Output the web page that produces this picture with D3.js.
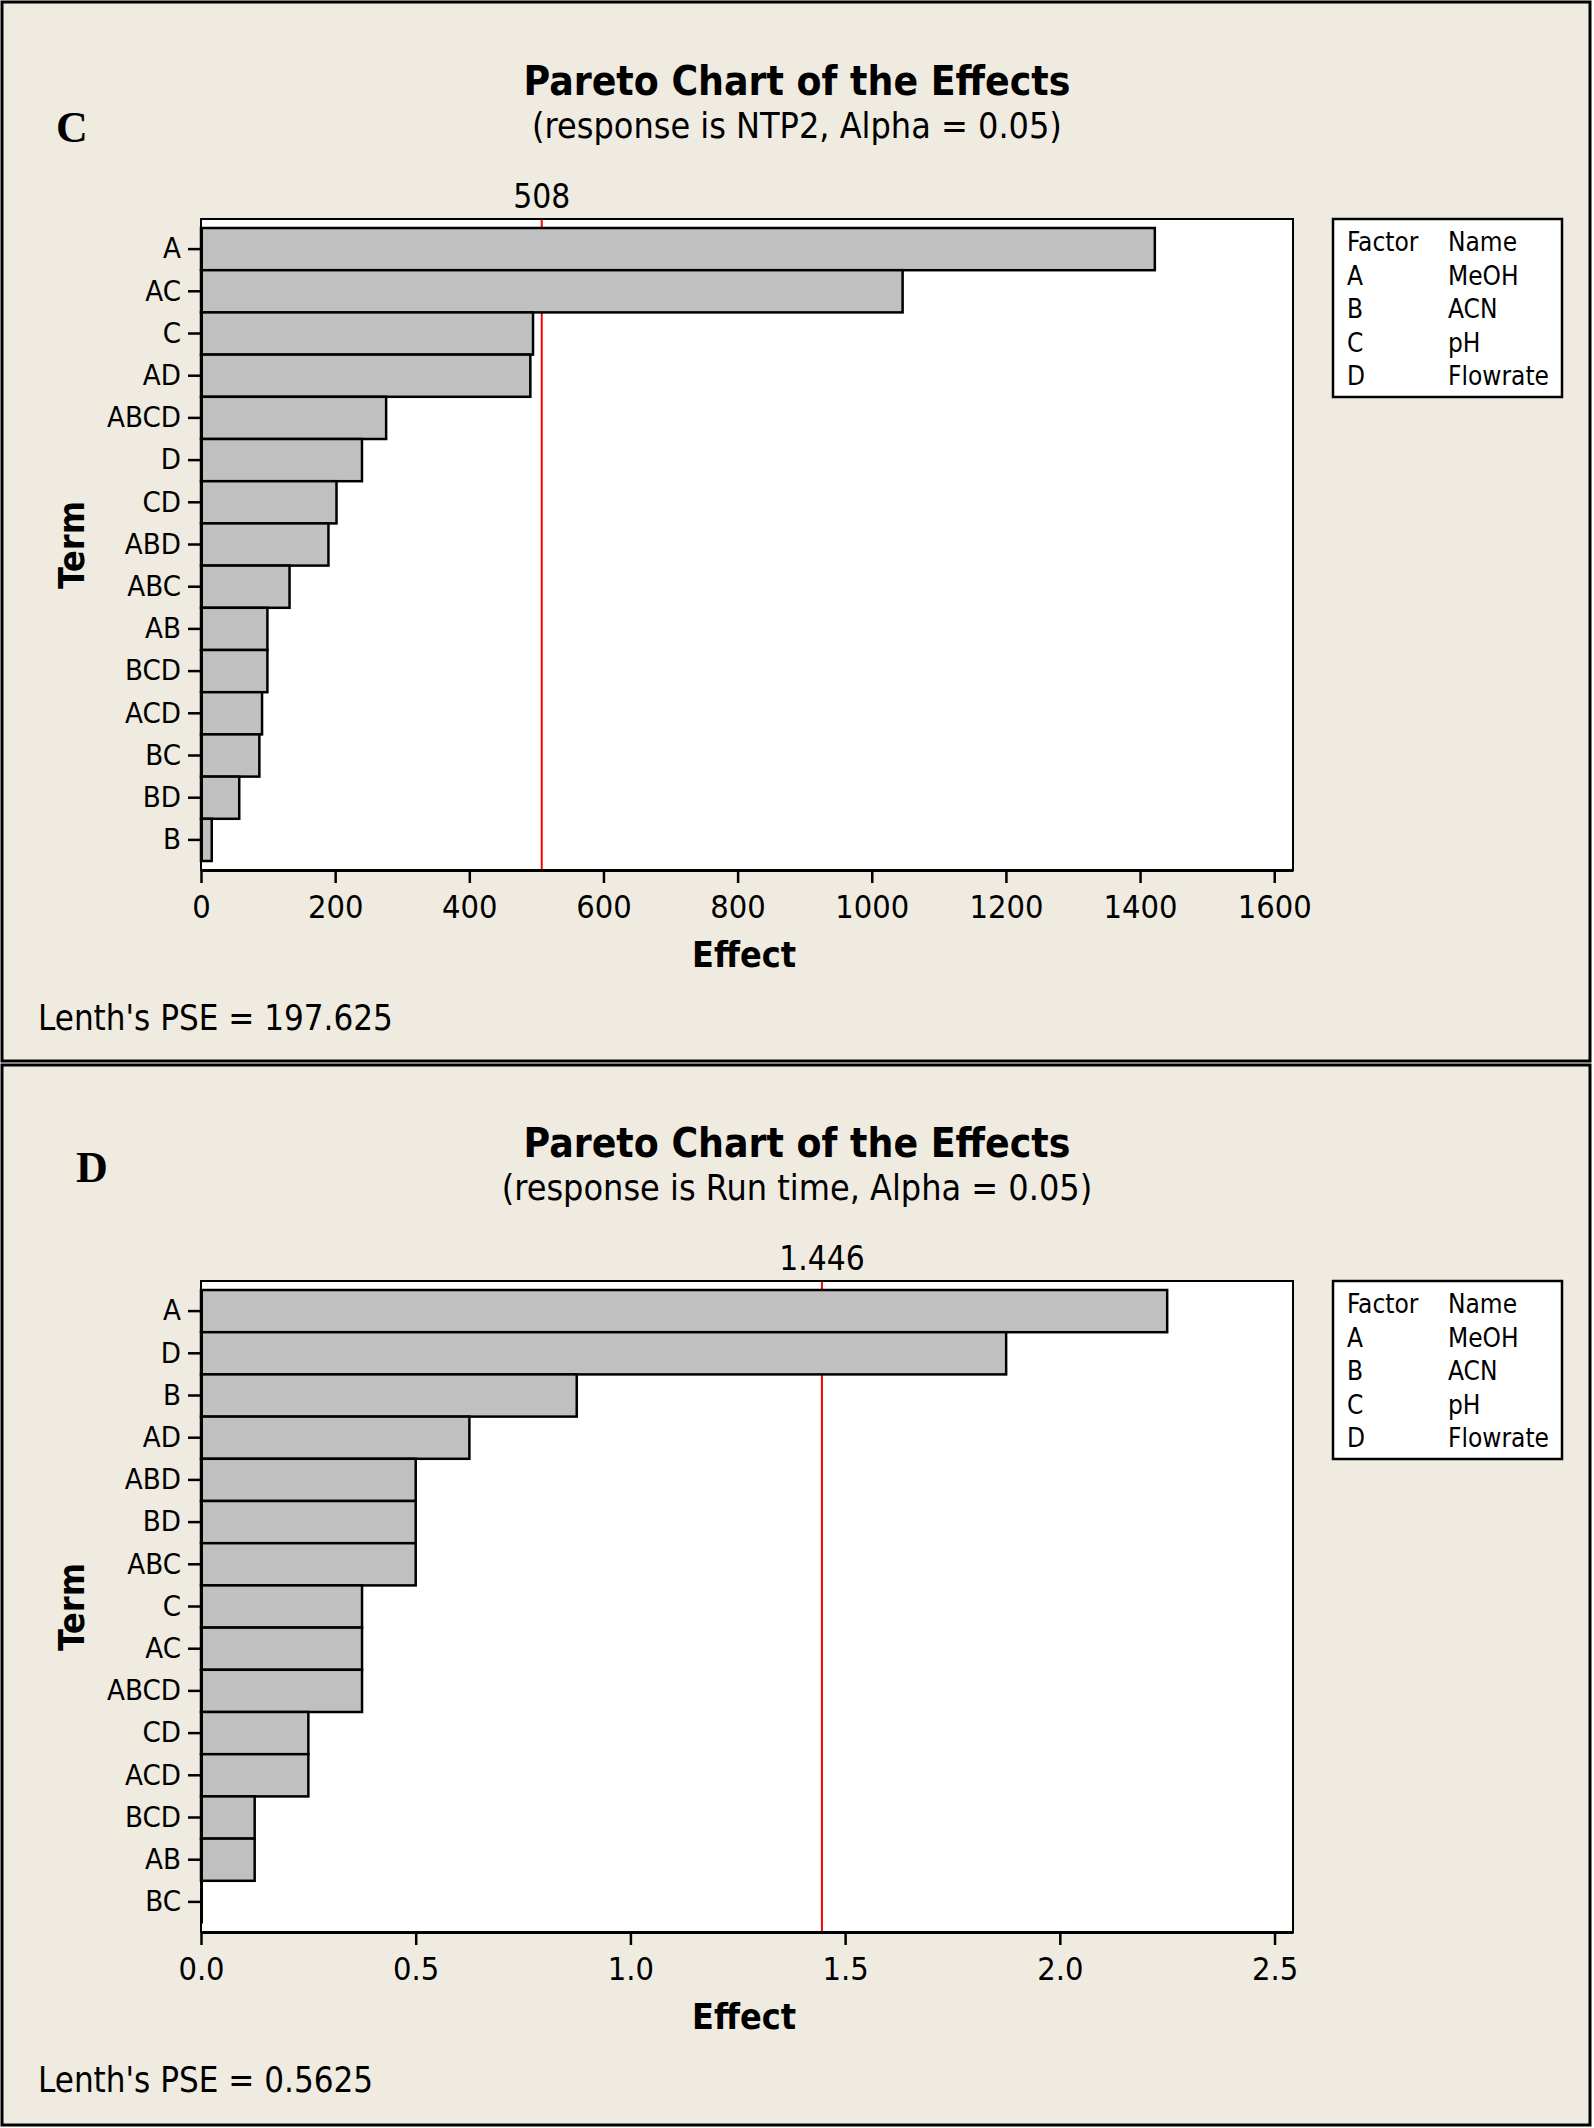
<!DOCTYPE html>
<html>
<head>
<meta charset="utf-8">
<script src="https://cdn.jsdelivr.net/npm/d3@7"></script>
<style>
  body { margin: 0; background: #ffffff; }
</style>
</head>
<body>
<script>
// ---- Data ----
var termsC = ["A", "AC", "C", "AD", "ABCD", "D", "CD", "ABD", "ABC", "AB", "BCD", "ACD", "BC", "BD", "B"];
var effectsC = [1422, 1046, 495, 491, 276, 240, 202, 190, 132, 99, 99, 91, 87, 57, 16];
var ticksC = [0, 200, 400, 600, 800, 1000, 1200, 1400, 1600];
var critC = 508;
var pseC = "197.625";
var responseC = "NTP2";

var termsD = ["A", "D", "B", "AD", "ABD", "BD", "ABC", "C", "AC", "ABCD", "CD", "ACD", "BCD", "AB", "BC"];
var effectsD = [2.25, 1.875, 0.875, 0.625, 0.5, 0.5, 0.5, 0.375, 0.375, 0.375, 0.25, 0.25, 0.125, 0.125, 0];
var ticksD = [0, 0.5, 1.0, 1.5, 2.0, 2.5];
var critD = 1.446;
var pseD = "0.5625";
var responseD = "Run time";

var factorCodes = ["A", "B", "C", "D"];
var factorNames = ["MeOH", "ACN", "pH", "Flowrate"];

// ---- Layout ----
var svgWidth = 1594;
var svgHeight = 2128;
var panelH = 1062;
var plot = { left: 201, right: 1293, top: 219, bottom: 870 };
var bg = "#efebe0";
var sans = "'DejaVu Sans Condensed', 'DejaVu Sans', sans-serif";

var svg = d3.select("body")
    .append("svg")
    .attr("width", svgWidth)
    .attr("height", svgHeight);

// pick a font size so that a sample string gets the width seen in the picture
function fitSize(sample, weight, width) {
    var t = svg.append("text")
        .style("font-family", sans)
        .style("font-weight", weight)
        .style("font-size", "100px")
        .text(sample);
    var w = t.node().getComputedTextLength();
    t.remove();
    return 100 * width / w;
}

var fs = {
    title: fitSize("Pareto Chart of the Effects", "bold", 547),
    sub: fitSize("(response is NTP2, Alpha = 0.05)", "normal", 530),
    crit: fitSize("508", "normal", 57),
    xtick: fitSize("1000", "normal", 74),
    ytick: fitSize("ABCD", "normal", 74),
    axis: fitSize("Effect", "bold", 104),
    pse: fitSize("Lenth's PSE = 197.625", "normal", 355),
    legend: fitSize("Flowrate", "normal", 101)
};

function drawPanel(opt) {
    var g = svg.append("g").attr("transform", `translate(0, ${opt.offset})`);

    // panel background and border
    g.append("rect")
        .attr("x", 2).attr("y", opt.boxTop)
        .attr("width", 1588).attr("height", opt.boxHeight)
        .attr("fill", bg)
        .attr("stroke", "#000")
        .attr("stroke-width", 3);

    // panel letter
    g.append("text")
        .attr("x", opt.letterX).attr("y", opt.letterY)
        .style("font-family", "'Liberation Serif', 'DejaVu Serif', serif")
        .style("font-weight", "bold")
        .style("font-size", "44px")
        .text(opt.letter);

    // titles
    g.append("text")
        .attr("x", svgWidth / 2).attr("y", 95)
        .attr("text-anchor", "middle")
        .style("font-family", sans).style("font-weight", "bold")
        .style("font-size", fs.title + "px")
        .text("Pareto Chart of the Effects");

    g.append("text")
        .attr("x", svgWidth / 2).attr("y", 138)
        .attr("text-anchor", "middle")
        .style("font-family", sans)
        .style("font-size", fs.sub + "px")
        .text(`(response is ${opt.response}, Alpha = 0.05)`);

    // scales
    var x = d3.scaleLinear()
        .domain([0, opt.xMax])
        .range([plot.left, plot.right]);

    var y = d3.scaleBand()
        .domain(opt.terms)
        .range([plot.top + 9, plot.bottom - 9])
        .padding(0);

    // plot area
    g.append("rect")
        .attr("x", plot.left).attr("y", plot.top)
        .attr("width", plot.right - plot.left)
        .attr("height", plot.bottom - plot.top)
        .attr("fill", "#fff");

    // critical value line (behind the bars)
    g.append("line")
        .attr("x1", x(opt.crit)).attr("x2", x(opt.crit))
        .attr("y1", plot.top).attr("y2", plot.bottom)
        .attr("stroke", "#ff0000")
        .attr("stroke-width", 2);

    g.append("text")
        .attr("x", x(opt.crit)).attr("y", 208)
        .attr("text-anchor", "middle")
        .style("font-family", sans)
        .style("font-size", fs.crit + "px")
        .text(opt.critLabel);

    // bars
    g.selectAll("rect.bar")
        .data(opt.effects)
        .join("rect")
        .attr("class", "bar")
        .attr("x", x(0))
        .attr("y", (d, i) => y(opt.terms[i]))
        .attr("width", d => x(d) - x(0))
        .attr("height", y.bandwidth())
        .attr("fill", "#c0c0c0")
        .attr("stroke", "#000")
        .attr("stroke-width", 2.5);

    // frame
    g.append("rect")
        .attr("x", plot.left).attr("y", plot.top)
        .attr("width", plot.right - plot.left)
        .attr("height", plot.bottom - plot.top)
        .attr("fill", "none")
        .attr("stroke", "#000")
        .attr("stroke-width", 2);

    // axes
    var bottomAxis = d3.axisBottom(x)
        .tickValues(opt.ticks)
        .tickFormat(opt.tickFormat)
        .tickSize(13)
        .tickSizeOuter(0)
        .tickPadding(12);

    var leftAxis = d3.axisLeft(y)
        .tickSize(13)
        .tickSizeOuter(0)
        .tickPadding(7);

    var xg = g.append("g")
        .attr("transform", `translate(0, ${plot.bottom})`)
        .call(bottomAxis);
    xg.selectAll("text")
        .style("font-family", sans)
        .style("font-size", fs.xtick + "px")
        .attr("fill", "#000");

    var yg = g.append("g")
        .attr("transform", `translate(${plot.left}, 0)`)
        .call(leftAxis);
    yg.selectAll("text")
        .style("font-family", sans)
        .style("font-size", fs.ytick + "px")
        .attr("fill", "#000");

    g.selectAll(".domain").attr("stroke", "#000").attr("stroke-width", 3);
    g.selectAll(".tick line").attr("stroke", "#000").attr("stroke-width", 2.5);

    // axis titles
    g.append("text")
        .attr("x", 744).attr("y", 967)
        .attr("text-anchor", "middle")
        .style("font-family", sans).style("font-weight", "bold")
        .style("font-size", fs.axis + "px")
        .text("Effect");

    g.append("text")
        .attr("transform", "translate(84, 545) rotate(-90)")
        .attr("text-anchor", "middle")
        .style("font-family", sans).style("font-weight", "bold")
        .style("font-size", fs.axis + "px")
        .text("Term");

    // Lenth's PSE
    g.append("text")
        .attr("x", 38).attr("y", 1030)
        .style("font-family", sans)
        .style("font-size", fs.pse + "px")
        .text(`Lenth's PSE = ${opt.pse}`);

    // factor legend
    var lg = g.append("g");
    lg.append("rect")
        .attr("x", 1333).attr("y", 219)
        .attr("width", 229).attr("height", 178)
        .attr("fill", "#fff")
        .attr("stroke", "#000")
        .attr("stroke-width", 2.5);

    var rows = [["Factor", "Name"]].concat(factorCodes.map((c, i) => [c, factorNames[i]]));
    rows.forEach((r, i) => {
        lg.append("text")
            .attr("x", 1347).attr("y", 251 + i * 33.5)
            .style("font-family", sans)
            .style("font-size", fs.legend + "px")
            .text(r[0]);
        lg.append("text")
            .attr("x", 1448).attr("y", 251 + i * 33.5)
            .style("font-family", sans)
            .style("font-size", fs.legend + "px")
            .text(r[1]);
    });
}

drawPanel({
    offset: 0, boxTop: 2, boxHeight: 1059,
    letter: "C", letterX: 56, letterY: 142,
    response: responseC,
    terms: termsC, effects: effectsC,
    ticks: ticksC, xMax: 1628, tickFormat: d3.format("d"),
    crit: critC, critLabel: "508",
    pse: pseC
});

drawPanel({
    offset: panelH, boxTop: 3, boxHeight: 1060,
    letter: "D", letterX: 76, letterY: 120,
    response: responseD,
    terms: termsD, effects: effectsD,
    ticks: ticksD, xMax: 2.543, tickFormat: d3.format(".1f"),
    crit: critD, critLabel: "1.446",
    pse: pseD
});
</script>
</body>
</html>
